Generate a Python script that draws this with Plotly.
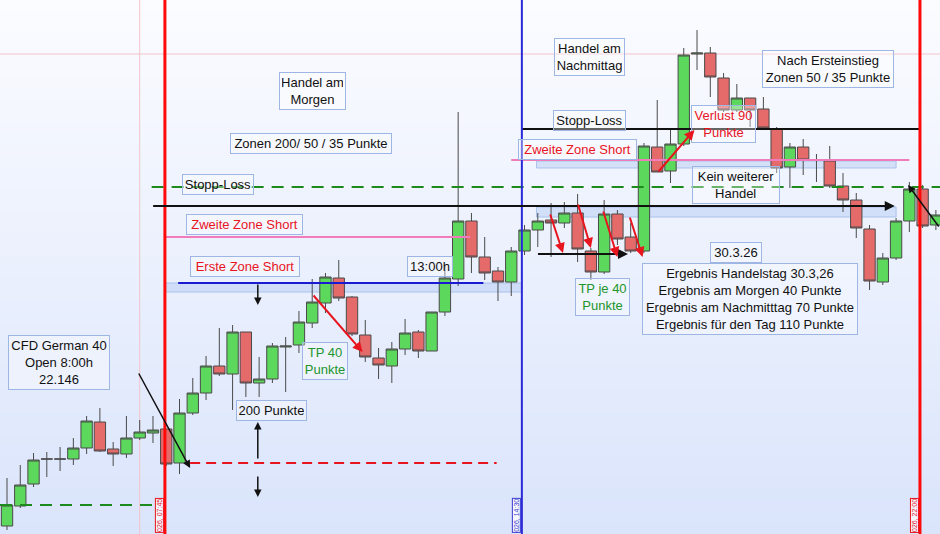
import plotly.graph_objects as go

# ---------------- data: 15-minute candles, 30.3.26 ----------------
idx = list(range(71))
open_ = [22050,22070,22092,22117,22117,22117,22128,22154,22127,22122,
         22138,22143,22147,22113,22163,22183,22210,22202,22244,22193,
         22197,22229,22231,22253,22273,22298,22279,22241,22218,22210,
         22227,22244,22225,22264,22297,22355,22319,22305,22294,22325,
         22346,22356,22353,22363,22325,22304,22362,22339,22325,22429,
         22405,22432,22522,22523,22498,22466,22478,22467,22447,22409,
         22429,22416,22415,22390,22376,22347,22294,22318,22355,22387,22351]
high = [22098,22111,22123,22124,22129,22138,22160,22168,22134,22160,
        22156,22160,22147,22177,22198,22220,22248,22251,22244,22219,
        22233,22239,22265,22297,22303,22316,22280,22256,22228,22234,
        22257,22246,22264,22311,22464,22363,22339,22309,22329,22351,
        22363,22373,22374,22382,22328,22376,22366,22353,22433,22476,
        22446,22528,22546,22529,22503,22492,22478,22479,22449,22433,
        22437,22422,22430,22403,22383,22351,22323,22358,22394,22391,22366]
low = [22046,22068,22089,22099,22105,22111,22122,22124,22110,22118,
       22136,22133,22110,22102,22161,22176,22200,22166,22179,22179,
       22193,22184,22223,22248,22263,22275,22240,22214,22197,22193,
       22221,22218,22225,22260,22290,22303,22296,22275,22280,22321,
       22329,22319,22348,22314,22296,22302,22331,22323,22323,22404,
       22393,22430,22506,22479,22464,22464,22449,22446,22403,22388,
       22401,22394,22388,22364,22338,22286,22291,22316,22344,22348,22346]
close = [22071,22091,22116,22117,22117,22128,22155,22125,22122,22138,
         22144,22146,22112,22163,22183,22210,22202,22244,22193,22197,
         22230,22230,22254,22274,22299,22278,22242,22219,22211,22227,
         22243,22225,22264,22298,22355,22319,22303,22294,22325,22346,
         22355,22353,22363,22327,22304,22362,22337,22325,22430,22404,
         22432,22521,22523,22499,22466,22478,22466,22448,22408,22429,
         22416,22416,22390,22376,22348,22295,22318,22355,22387,22350,22361]

# key levels (prices) and times (candle index)
crosshair_price = 22522
crosshair_idx = 10
open_line_idx = 11.9      # 07:45
pm_line_idx = 38.8        # 14:30
end_line_idx = 68.8       # 22:00
session_labels = ["026, 07:45", "026, 14:30", "026, 22:00"]
stop_loss_am = 22389
prev_level = 22071
entry_level = 22370
stop_loss_pm = 22447
zone2_am = 22339
zone2_pm = 22416
zone1_top = 22293
zone1_bottom = 22284
zone_pm_a = (22359, 22369)
zone_pm_b = (22408, 22415)
target_level = 22113

X_RANGE = [-0.5275, 70.31]
Y_RANGE = [22042, 22576]
FONT = "Liberation Sans, Arial, sans-serif"
BORDER = "#9db6e4"
BOXBG = "rgba(255,255,255,0.35)"
RED = "#e8141e"
GREEN = "#22952c"
BLACK = "#111111"

fig = go.Figure()
fig.add_trace(go.Candlestick(
    x=idx, open=open_, high=high, low=low, close=close,
    increasing=dict(fillcolor="#5cd85c", line=dict(color="#4a4a4a", width=1)),
    decreasing=dict(fillcolor="#e56a6a", line=dict(color="#4a4a4a", width=1)),
    whiskerwidth=0, showlegend=False, hoverinfo="skip"))

shapes = []
# background gradient
N = 48
top_c = (251, 252, 255)
bot_c = (218, 228, 251)
for k in range(N):
    t = (k + 0.5) / N
    c = tuple(round(top_c[j] + (bot_c[j] - top_c[j]) * t) for j in range(3))
    shapes.append(dict(type="rect", xref="paper", yref="paper", x0=0, x1=1,
                       y0=1 - (k + 1) / N, y1=1 - k / N + 0.001,
                       fillcolor="rgb(%d,%d,%d)" % c, line=dict(width=0), layer="below"))
# crosshair
shapes.append(dict(type="line", xref="paper", yref="y", x0=0, x1=1, y0=crosshair_price, y1=crosshair_price,
                   line=dict(color="#f2c4c8", width=1), layer="below"))
shapes.append(dict(type="line", xref="x", yref="paper", x0=crosshair_idx, x1=crosshair_idx, y0=0, y1=1,
                   line=dict(color="#f2c4c8", width=1), layer="below"))
# zones
zone_style = dict(fillcolor="rgba(175,200,242,0.45)", line=dict(color="#a9c2ec", width=1), layer="below")
shapes.append(dict(type="rect", xref="x", yref="y", x0=open_line_idx, x1=pm_line_idx,
                   y0=zone1_bottom, y1=zone1_top, **zone_style))
shapes.append(dict(type="rect", xref="x", yref="y", x0=39.9, x1=67.0,
                   y0=zone_pm_a[0], y1=zone_pm_a[1], **zone_style))
shapes.append(dict(type="rect", xref="x", yref="y", x0=39.9, x1=67.0,
                   y0=zone_pm_b[0], y1=zone_pm_b[1], **zone_style))
# horizontal levels
def hline(x0, x1, y, color, width=2, dash=None, xref="x"):
    d = dict(type="line", xref=xref, yref="y", x0=x0, x1=x1, y0=y, y1=y,
             line=dict(color=color, width=width), layer="above")
    if dash:
        d["line"]["dash"] = dash
    return d
shapes.append(hline(10.9, X_RANGE[1], stop_loss_am, "#1d8a1d", 2, "12px,8px"))
shapes.append(hline(X_RANGE[0], 11.0, prev_level, "#1d8a1d", 2, "12px,8px"))
shapes.append(hline(pm_line_idx, end_line_idx, stop_loss_pm, "#111111", 2))
shapes.append(hline(open_line_idx, 34.9, zone2_am, "#f07cbc", 2))
shapes.append(hline(38.0, 68.0, zone2_pm, "#f07cbc", 2))
shapes.append(hline(12.9, 35.9, zone1_top, "#1a1ad2", 2))
shapes.append(hline(13.8, 36.9, target_level, "#e8141e", 2, "10px,6px"))
# vertical session lines
for xv, col, w in [(open_line_idx, "#ff0a0a", 3), (pm_line_idx, "#2a2ad8", 2), (end_line_idx, "#ff0a0a", 3)]:
    shapes.append(dict(type="line", xref="x", yref="paper", x0=xv, x1=xv, y0=0, y1=1,
                       line=dict(color=col, width=w), layer="above"))

ann = []
def box(text, x, y, color=BLACK, w=None):
    d = dict(x=x, y=y, xref="x", yref="y", text=text, showarrow=False,
             font=dict(family=FONT, size=13, color=color), bordercolor=BORDER,
             borderwidth=1, borderpad=2, bgcolor=BOXBG, align="center")
    if w:
        d["width"] = w
    return d

def arrow(x0, y0, x1, y1, color, width=2, head=2):
    return dict(x=x1, y=y1, ax=x0, ay=y0, xref="x", yref="y", axref="x", ayref="y",
                text="", showarrow=True, arrowhead=head, arrowsize=1,
                arrowwidth=width, arrowcolor=color, standoff=0)

ann += [
    box("CFD German 40<br>Open 8:00h<br>22.146", 3.9, 22214, w=96),
    box("Handel am<br>Morgen", 23.0, 22485, w=61),
    box("Zonen 200/ 50 / 35 Punkte", 22.9, 22433, w=156),
    box("Stopp-Loss", 15.9, 22392, w=66),
    box("Zweite Zone Short", 17.9, 22352, RED, w=111),
    box("Erste Zone Short", 17.9, 22310, RED, w=104),
    box("13:00h", 31.9, 22310, w=40),
    box("TP 40<br>Punkte", 24.0, 22215, GREEN, w=40),
    box("200 Punkte", 19.9, 22166, w=65),
    box("Handel am<br>Nachmittag", 43.9, 22519, w=65),
    box("Stopp-Loss", 43.9, 22456, w=67),
    box("Zweite Zone Short", 43.0, 22427, RED, w=113),
    box("Verlust 90<br>Punkte", 54.0, 22452, RED, w=59),
    box("Kein weiterer<br>Handel", 54.9, 22391, w=82),
    box("Nach Ersteinstieg<br>Zonen 50 / 35 Punkte", 61.9, 22507, w=126),
    box("30.3.26", 54.9, 22324, w=46),
    box("Ergebnis Handelstag 30.3,26<br>Ergebnis am Morgen 40 Punkte<br>"
        "Ergebnis am Nachmitttag 70 Punkte<br>Ergebnis für den Tag 110 Punkte", 56.0, 22277, w=210),
    box("TP je 40<br>Punkte", 44.9, 22279, GREEN, w=49),
]
# arrows
ann += [
    arrow(10.9, entry_level, 66.9, entry_level, "#111111", 2),
    arrow(39.9, 22322, 46.8, 22322, "#111111", 2),
    arrow(18.9, 22293, 18.9, 22271, "#111111", 1.5),
    arrow(18.9, 22116, 18.9, 22154, "#111111", 1.5),
    arrow(18.9, 22101, 18.9, 22079, "#111111", 1.5),
    arrow(9.87, 22204, 13.8, 22108, "#111111", 1.5),
    arrow(23.0, 22282, 26.8, 22224, "#e8141e", 2),
    arrow(40.9, 22363, 41.9, 22323, "#e8141e", 2),
    arrow(43.0, 22373, 44.0, 22328, "#e8141e", 2),
    arrow(44.9, 22366, 46.0, 22319, "#e8141e", 2),
    arrow(46.9, 22360, 47.9, 22319, "#e8141e", 2),
    arrow(49.0, 22403, 51.8, 22446, "#e8141e", 2),
    arrow(70.3, 22348, 67.9, 22391, "#111111", 1.5),
]
# session labels at the bottom
for xv, col, lab in [(open_line_idx, "#e8141e", session_labels[0]),
                     (pm_line_idx, "#3a3ad0", session_labels[1]),
                     (end_line_idx, "#e8141e", session_labels[2])]:
    ann.append(dict(x=xv, y=0, xref="x", yref="paper", xanchor="right", yanchor="bottom",
                    xshift=-1, yshift=1, text=lab, textangle=-90, showarrow=False,
                    font=dict(family=FONT, size=7, color=col), bordercolor=col,
                    borderwidth=1, borderpad=0, bgcolor="rgba(255,255,255,0.7)"))

fig.update_layout(
    width=940, height=534, autosize=False,
    margin=dict(l=0, r=0, t=0, b=0, pad=0),
    paper_bgcolor="#eef2fd", plot_bgcolor="#eef2fd",
    boxgap=0.1, boxgroupgap=0.05,
    shapes=shapes, annotations=ann, showlegend=False,
    xaxis=dict(range=X_RANGE, visible=False, rangeslider=dict(visible=False), fixedrange=True),
    yaxis=dict(range=Y_RANGE, visible=False, fixedrange=True),
)
fig.write_html("out.html", config={"displayModeBar": False},
               post_script="document.body.style.margin='0';document.body.style.padding='0';"
                           "document.body.style.overflow='hidden';")
